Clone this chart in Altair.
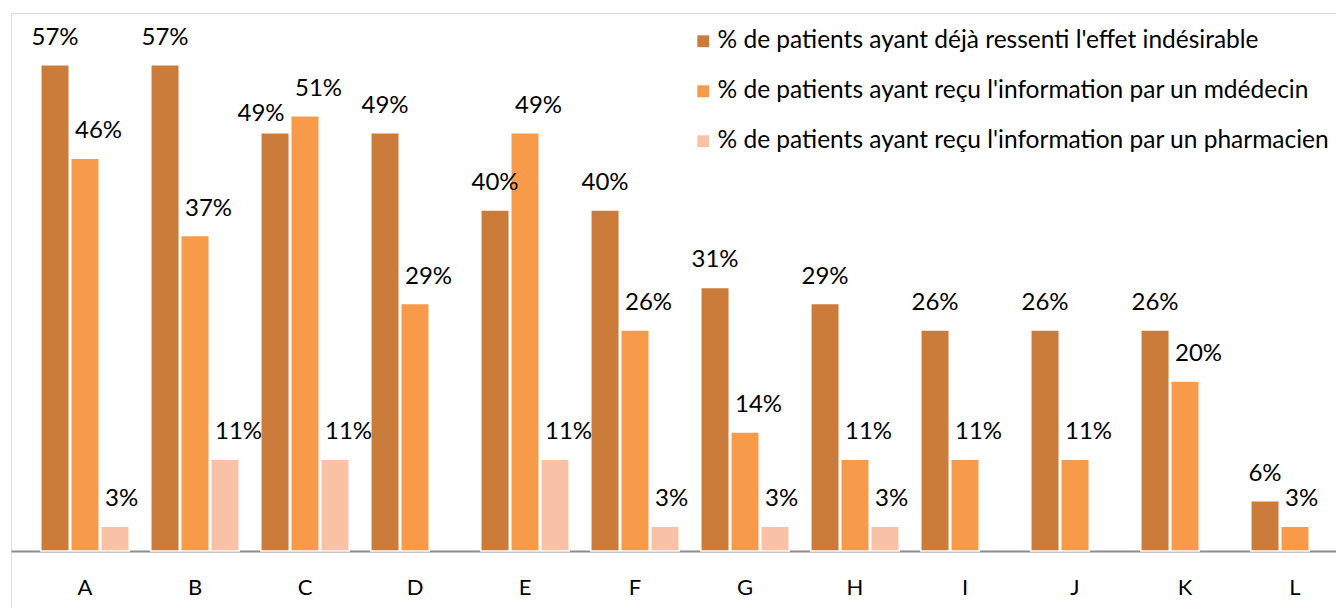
import altair as alt
import pandas as pd

categories = ["A", "B", "C", "D", "E", "F", "G", "H", "I", "J", "K", "L"]
series = [
    "% de patients ayant déjà ressenti l'effet indésirable",
    "% de patients ayant reçu l'information par un mdédecin",
    "% de patients ayant reçu l'information par un pharmacien",
]
effet = [0.572, 0.572, 0.492, 0.492, 0.401, 0.401, 0.310, 0.291, 0.260, 0.260, 0.260, 0.059]
medecin = [0.462, 0.371, 0.512, 0.291, 0.492, 0.260, 0.140, 0.108, 0.108, 0.108, 0.200, 0.029]
pharmacien = [0.029, 0.108, 0.108, None, 0.108, 0.029, 0.029, 0.029, None, None, None, None]
colors = ["#CB7B3A", "#F79A4A", "#F9C2A6"]

rows = []
for i, c in enumerate(categories):
    for k, (s, vals) in enumerate(zip(series, [effet, medecin, pharmacien])):
        if vals[i] is not None:
            rows.append({"cat": c, "serie": s, "k": k, "val": vals[i]})
df = pd.DataFrame(rows)

FONT = "Lato"
H = 620
W = 1358

x = alt.X("cat:N", sort=categories, title=None,
          scale=alt.Scale(paddingInner=0, paddingOuter=0.1727),
          axis=alt.Axis(labelAngle=0, ticks=False, offset=-82, labelPadding=36,
                        labelBaseline="middle", labelFont=FONT, labelFontSize=22,
                        labelColor="#000000", domainColor="#8C8C8C", domainWidth=2,
                        grid=False))
xo = alt.XOffset("serie:N", sort=series,
                 scale=alt.Scale(paddingInner=0.05, paddingOuter=0.36))
y = alt.Y("val:Q", axis=None,
          scale=alt.Scale(domain=[-0.0965, 0.6329], nice=False, zero=False))

base = alt.Chart(df)

bars = base.mark_bar(stroke="white", strokeWidth=1.5).encode(
    x=x, xOffset=xo, y=y,
    color=alt.Color("serie:N", sort=series,
                    scale=alt.Scale(domain=series, range=colors),
                    legend=alt.Legend(title=None, orient="none", legendX=680, legendY=16,
                                      symbolType="square", symbolSize=140,
                                      symbolStrokeWidth=0, labelFont=FONT,
                                      labelFontSize=24.5, labelColor="#000000",
                                      rowPadding=25, labelOffset=2, padding=0,
                                      labelLimit=800)),
)

txt = dict(baseline="alphabetic", font=FONT, fontSize=24, color="#000000")
enc = dict(x=x, xOffset=xo, y=y, text=alt.Text("val:Q", format=".0%"))

# first series: labels centred over the bar (C moved aside as in the original)
labels1 = base.mark_text(dy=-20, **txt).encode(**enc).transform_filter(
    "datum.k == 0 && datum.cat != 'C'")
labels1c = base.mark_text(dy=-12, dx=-14, **txt).encode(**enc).transform_filter(
    "datum.k == 0 && datum.cat == 'C'")
# other series: labels start at the bar's left edge
labels23 = base.mark_text(dy=-20, dx=-10, align="left", **txt).encode(**enc).transform_filter(
    "datum.k > 0")

chart = alt.layer(bars, labels1, labels1c, labels23).properties(
    width=W, height=H,
    autosize=alt.AutoSizeParams(type="none"),
    padding={"left": 3, "top": 5, "right": -33, "bottom": -25},
).configure_view(stroke="#808080", strokeWidth=2).configure(background="white")

chart.save("out.html", embed_options={"renderer": "svg", "actions": False})
